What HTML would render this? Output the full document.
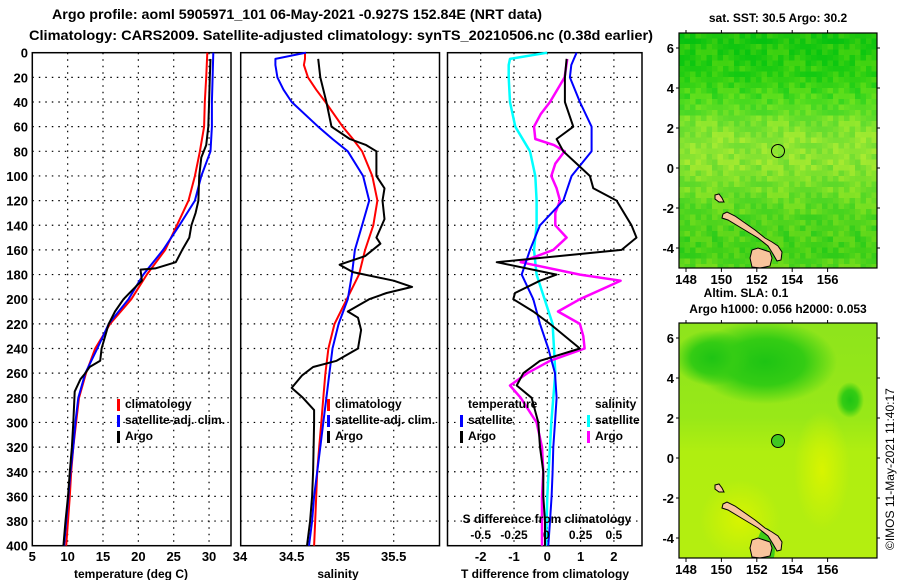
<!DOCTYPE html>
<html><head><meta charset="utf-8">
<style>
html,body{margin:0;padding:0;background:#fff;}
svg{display:block;font-family:"Liberation Sans",sans-serif;font-weight:bold;}
</style></head>
<body>
<svg id="c" width="900" height="580" xmlns="http://www.w3.org/2000/svg">
<defs>
<radialGradient id="g1" cx="0.5" cy="0.5" r="0.5"><stop offset="0" stop-color="#1ec414"/><stop offset="0.55" stop-color="#34cc14"/><stop offset="1" stop-color="#34cc14" stop-opacity="0"/></radialGradient>
<radialGradient id="g2" cx="0.5" cy="0.5" r="0.5"><stop offset="0" stop-color="#d8f400"/><stop offset="1" stop-color="#d8f400" stop-opacity="0"/></radialGradient>
<linearGradient id="lg2" x1="0" y1="0" x2="0" y2="1"><stop offset="0" stop-color="#8ee41c"/><stop offset="0.4" stop-color="#98e818"/><stop offset="0.55" stop-color="#b0ee10"/><stop offset="1" stop-color="#b4ee10"/></linearGradient>
<clipPath id="cm1"><rect x="679" y="33" width="198" height="235"/></clipPath>
<clipPath id="cm2"><rect x="679" y="323" width="198" height="235"/></clipPath>
</defs>
<text x="52" y="19" font-size="14" textLength="490" lengthAdjust="spacingAndGlyphs">Argo profile: aoml 5905971_101 06-May-2021 -0.927S 152.84E (NRT data)</text>
<text x="29" y="40" font-size="14" textLength="624" lengthAdjust="spacingAndGlyphs">Climatology: CARS2009. Satellite-adjusted climatology: synTS_20210506.nc (0.38d earlier)</text>
<g id="p1"></g>
<g id="p2"></g>
<g id="p3"></g>
<g id="m1"></g>
<g id="m2"></g>
<text transform="translate(894,550) rotate(-90)" font-size="12" font-weight="normal">©IMOS 11-May-2021 11:40:17</text>
</svg>
<script>
const depthsT = [0,20,40,60,80,100,120,140,160,180,200,220,240,260,280,300,320,340,360,380,400];
const tempClim = [29.75,29.6,29.4,29.3,28.7,28.0,27.1,25.45,23.8,21.2,19.0,16.0,13.9,12.6,11.6,11.2,10.8,10.5,10.3,10.05,9.8];
const tempSat = [30.6,30.5,30.4,30.4,30.2,28.9,28.0,25.8,23.5,20.7,18.6,15.8,14.2,12.5,11.5,11.1,10.8,10.4,10.1,9.8,9.5];
const depthsArgoT = [5,20,40,60,75,85,100,120,130,140,150,160,170,175,176,185,190,200,210,220,240,250,255,260,265,275,300,320,340,360,380,400];
const tempArgo = [30.2,30.1,30.0,29.9,29.6,28.9,28.6,28.5,28.1,27.5,27.2,26.2,25.3,22.4,20.3,20.5,19.6,17.9,16.7,15.8,14.8,14.6,13.1,12.5,11.8,11.0,10.8,10.6,10.3,10.05,9.7,9.4];
const depthsS = [0,5,10,20,30,40,60,70,80,100,120,140,160,180,200,220,240,260,280,300,320,340,360,380,400];
const salClim = [34.63,34.63,34.62,34.66,34.74,34.83,35.0,35.1,35.19,35.29,35.34,35.30,35.22,35.16,35.04,34.92,34.86,34.83,34.81,34.79,34.77,34.75,34.74,34.73,34.72];
const salSat = [34.64,34.34,34.34,34.36,34.42,34.5,34.76,34.9,35.05,35.2,35.26,35.19,35.12,35.09,35.05,34.96,34.9,34.87,34.84,34.81,34.78,34.75,34.72,34.70,34.67];
const depthsArgoS = [5,20,40,60,70,75,80,100,110,120,135,150,155,165,172,178,185,190,195,200,210,215,225,240,250,255,262,272,280,290,300,340,360,380,400];
const salArgo = [34.76,34.78,34.84,34.89,35.07,35.23,35.33,35.33,35.41,35.39,35.41,35.33,35.37,35.22,34.97,35.10,35.50,35.68,35.43,35.26,35.05,35.15,35.18,35.15,34.94,34.71,34.60,34.50,34.61,34.72,34.72,34.71,34.70,34.68,34.65];
const depthsD = [0,5,10,20,40,60,80,100,120,140,160,180,200,220,240,260,280,300,320,340,360,380,400];
const dSSat = [0.0,-0.28,-0.29,-0.29,-0.28,-0.24,-0.13,-0.09,-0.08,-0.08,-0.1,-0.08,-0.02,0.04,0.05,0.06,0.045,0.03,0.02,0.01,0.0,-0.005,-0.01];
const dTSat = [0.88,0.8,0.72,0.68,0.98,1.33,1.33,0.73,0.48,-0.22,-0.52,-0.77,-0.42,-0.22,0.03,0.23,0.28,0.23,0.18,0.16,0.13,0.08,0.03];
const depthsDSA = [5,20,40,50,60,70,75,80,90,100,110,120,130,140,150,160,170,180,185,190,200,210,220,230,240,250,260,270,280,300,320,340,360,380,400];
const dSArgo = [0.15,0.13,0.02,-0.05,-0.1,-0.09,0.05,0.13,0.06,0.03,0.07,0.095,0.06,0.06,0.145,0.045,-0.2,0.245,0.55,0.45,0.245,0.08,0.245,0.27,0.28,0.02,-0.15,-0.28,-0.2,-0.08,-0.04,-0.03,-0.04,-0.04,-0.04];
const depthsDTA = [5,20,40,60,70,80,90,100,110,120,140,150,160,170,180,185,195,200,210,220,240,250,260,270,280,300,320,340,360,380,400];
const dTArgo = [0.58,0.53,0.53,0.78,0.28,0.48,0.88,1.28,1.38,2.08,2.53,2.68,2.23,-1.52,0.28,-0.22,-0.97,-1.02,-0.42,0.08,0.98,-0.22,-0.72,-0.92,-0.47,-0.27,-0.22,-0.12,-0.12,-0.07,-0.07];
const depthTicks = [0,20,40,60,80,100,120,140,160,180,200,220,240,260,280,300,320,340,360,380,400];
const tTicks = [5,10,15,20,25,30,35];
const sTicks = [34,34.5,35,35.5];
const sTickLabels = ["34","34.5","35","35.5"];
const dTTicks = [-2,-1,0,1,2];
const dSTicks = [-0.5,-0.25,0,0.25,0.5];
const latTicks = [6,4,2,0,-2,-4];
const lonTicks = [148,150,152,154,156];

const NS="http://www.w3.org/2000/svg";
function mk(parent,tag,attrs){const e=document.createElementNS(NS,tag);for(const k in attrs)e.setAttribute(k,attrs[k]);parent.appendChild(e);return e;}
const Y0=52.7,Y1=545.7;
const yD=d=>Y0+(d/400)*(Y1-Y0);
const xT=t=>32.3+(t-5)*7.07;
const xS=s=>240.7+(s-34)*102;
const xDT=t=>547.3+t*33.3;
const xDS=s=>547.3+s*133.2;

function frame(g,x0,x1,name){
  for(const d of depthTicks){ if(d>0&&d<400){const l=mk(g,'line',{x1:x0,x2:x1,y1:yD(d),y2:yD(d),stroke:'#000','stroke-width':1.2,'stroke-dasharray':'1.5,5'});}}
  const r=mk(g,'rect',{x:x0,y:Y0,width:x1-x0,height:Y1-Y0,fill:'none',stroke:'#000','stroke-width':1.5});
  
}
function vgrid(g,xs,fx){for(const v of xs){const l=mk(g,'line',{x1:fx(v),x2:fx(v),y1:Y0,y2:Y1,stroke:'#000','stroke-width':1.2,'stroke-dasharray':'1.5,5'});}}
function line(g,ds,vs,fx,col,name,w){
  const p=ds.map((d,i)=>fx(vs[i]).toFixed(1)+','+yD(d).toFixed(1)).join(' ');
  const e=mk(g,'polyline',{points:p,fill:'none',stroke:col,'stroke-width':w||2,'stroke-linejoin':'round'});
  
}
function txt(g,x,y,s,size,anchor,name,col){const t=mk(g,'text',{x:x,y:y,'font-size':size,'text-anchor':anchor||'start',fill:col||'#000'});t.textContent=s;return t;}
function legBar(g,x,y,col){const r=mk(g,'rect',{x:x,y:y-10,width:3,height:12,fill:col});}

// Panel 1
const p1=document.getElementById('p1');
vgrid(p1,[10,15,20,25,30],xT);
frame(p1,32.3,231,'temperature-panel');
for(const d of depthTicks){txt(p1,28,yD(d)+5,String(d),13,'end','depth-tick-label');}
for(const t of tTicks){txt(p1,t===35?240:xT(t),561,String(t===35?34:t),13,'middle','temperature-tick-label');}
txt(p1,131,578,'temperature (deg C)',12,'middle','x-axis-title');
line(p1,depthsT,tempClim,xT,'#f00','climatology-temperature-line');
line(p1,depthsT,tempSat,xT,'#00f','satellite-temperature-line');
line(p1,depthsArgoT,tempArgo,xT,'#000','argo-temperature-line');
legBar(p1,117,409,'#f00');txt(p1,125,408,'climatology',12,'start','legend-climatology');
legBar(p1,117,425,'#00f');txt(p1,125,424,'satellite-adj. clim.',12,'start','legend-satellite');
legBar(p1,117,441,'#000');txt(p1,125,440,'Argo',12,'start','legend-argo');

// Panel 2
const p2=document.getElementById('p2');
vgrid(p2,[34.5,35,35.5],xS);
frame(p2,240.7,439.5,'salinity-panel');
for(let i=1;i<sTicks.length;i++){txt(p2,xS(sTicks[i]),561,sTickLabels[i],13,'middle','salinity-tick-label');}
txt(p2,338,578,'salinity',12,'middle','x-axis-title');
line(p2,depthsS,salClim,xS,'#f00','climatology-salinity-line');
line(p2,depthsS,salSat,xS,'#00f','satellite-salinity-line');
line(p2,depthsArgoS,salArgo,xS,'#000','argo-salinity-line');
legBar(p2,327,409,'#f00');txt(p2,335,408,'climatology',12,'start','legend-climatology');
legBar(p2,327,425,'#00f');txt(p2,335,424,'satellite-adj. clim.',12,'start','legend-satellite');
legBar(p2,327,441,'#000');txt(p2,335,440,'Argo',12,'start','legend-argo');

// Panel 3
const p3=document.getElementById('p3');
vgrid(p3,dTTicks,xDT);
frame(p3,447.5,642,'difference-panel');
for(const t of dTTicks){txt(p3,xDT(t),561,String(t),13,'middle','t-diff-tick-label');}
txt(p3,545,578,'T difference from climatology',12,'middle','x-axis-title');
line(p3,depthsD,dSSat,xDS,'#0ff','satellite-salinity-diff-line',2.5);
line(p3,depthsDSA,dSArgo,xDS,'#f0f','argo-salinity-diff-line',2.5);
line(p3,depthsD,dTSat,xDT,'#00f','satellite-temperature-diff-line');
line(p3,depthsDTA,dTArgo,xDT,'#000','argo-temperature-diff-line');
txt(p3,547,523,'S difference from climatology',12,'middle','s-diff-axis-title');
for(const s of dSTicks){txt(p3,xDS(s)-(s===0?1:0),539,String(s),12,'middle','s-diff-tick-label');}
txt(p3,468,408,'temperature',12,'start','legend-temperature-heading');
txt(p3,595,408,'salinity',12,'start','legend-salinity-heading');
legBar(p3,460,425,'#00f');txt(p3,468,424,'satellite',12,'start','legend-t-satellite');
legBar(p3,460,441,'#000');txt(p3,468,440,'Argo',12,'start','legend-t-argo');
legBar(p3,587,425,'#0ff');txt(p3,595,424,'satellite',12,'start','legend-s-satellite');
legBar(p3,587,441,'#f0f');txt(p3,595,440,'Argo',12,'start','legend-s-argo');

// Maps
const MX0=679,MX1=877,latTop=6.75,latBot=-5;
const lonX=l=>686+(l-148)*17.7;
function latY(lat,oy){return oy+(latTop-lat)/(latTop-latBot)*235;}
function land(g,oy){
  const dy=oy-33;
  const polys=[
   "723,214 727,212 735,216 745,223 755,230 765,238 772,242 778,246 782,252 781,260 777,261 773,254 768,246 758,238 748,232 738,226 728,220 722,218",
   "752,250 758,248 764,250 770,252 772,258 770,266 760,268 752,267 750,258",
   "715,195 719,194 722,198 724,202 719,202 715,199"];
  for(const p of polys){
    const pts=p.split(' ').map(s=>{const [a,b]=s.split(',');return a+','+(+b+dy);}).join(' ');
    const e=mk(g,'polygon',{points:pts,fill:'#f8c49c',stroke:'#000','stroke-width':1});
    
  }
}
function mapAxes(g,oy,name){
  const r=mk(g,'rect',{x:MX0,y:oy,width:MX1-MX0,height:235,fill:'none',stroke:'#000','stroke-width':1.2});
  
  for(const la of latTicks){const y=latY(la,oy);txt(g,674,y+5,String(la),13,'end','lat-tick-label');
    mk(g,'line',{x1:MX0,x2:MX0-3,y1:y,y2:y,stroke:'#000'});mk(g,'line',{x1:MX1,x2:MX1+3,y1:y,y2:y,stroke:'#000'});}
  for(const lo of lonTicks){const x=lonX(lo);txt(g,x,oy+251,String(lo),13,'middle','lon-tick-label');
    mk(g,'line',{x1:x,x2:x,y1:oy+235,y2:oy+239,stroke:'#000'});mk(g,'line',{x1:x,x2:x,y1:oy,y2:oy-3,stroke:'#000'});}
}
// top map texture (image background, not chart data)
const m1=document.getElementById('m1');
txt(m1,778,22,'sat. SST: 30.5 Argo: 30.2',12,'middle','sst-map-title');
const g1=mk(m1,'g',{'clip-path':'url(#cm1)'});

const rowCols=[[34,200,16],[40,205,16],[52,210,18],[80,220,30],[120,226,44],[145,230,50],[140,228,48],[120,224,40],[95,218,32],[80,212,28],[70,210,24],[100,215,30]];
const cs=5.5;
for(let j=0;j<43;j++){for(let i=0;i<37;i++){
  const f=j/43*(rowCols.length-1);const a=Math.floor(f),b=Math.min(a+1,rowCols.length-1),t=f-a;
  let c=rowCols[a].map((v,k)=>v+(rowCols[b][k]-v)*t);
  const h=((i*i*7+j*j*3+i*j*5+j*11)%13)/13-0.5;
  mk(g1,'rect',{x:MX0+i*cs,y:33+j*cs,width:cs+0.5,height:cs+0.5,fill:`rgb(${Math.round(c[0]+h*60)},${Math.round(c[1]+h*14)},${Math.round(c[2])})`});
}}
land(m1,33);
const c1=mk(m1,'circle',{cx:778,cy:151,r:6.5,fill:'none',stroke:'#000','stroke-width':1});

mapAxes(m1,33,'sst-map');
// bottom map
const m2=document.getElementById('m2');
txt(m2,746,297,'Altim. SLA: 0.1',12,'middle','sla-map-title');
txt(m2,778,313,'Argo h1000: 0.056 h2000: 0.053',12,'middle','sla-map-subtitle');
const g2=mk(m2,'g',{'clip-path':'url(#cm2)'});

mk(g2,'rect',{x:MX0,y:323,width:198,height:235,fill:'url(#lg2)'});
mk(g2,'ellipse',{cx:765,cy:362,rx:72,ry:42,fill:'url(#g1)'});
mk(g2,'ellipse',{cx:712,cy:358,rx:38,ry:28,fill:'url(#g1)'});
mk(g2,'ellipse',{cx:850,cy:400,rx:14,ry:18,fill:'url(#g1)'});
mk(g2,'ellipse',{cx:822,cy:470,rx:28,ry:60,fill:'url(#g2)'});
mk(g2,'ellipse',{cx:740,cy:520,rx:40,ry:40,fill:'url(#g2)'});
mk(g2,'ellipse',{cx:766,cy:548,rx:9,ry:20,fill:'#40cc18'});
land(m2,323);
const c2=mk(m2,'circle',{cx:778,cy:441,r:6.5,fill:'#40c820',stroke:'#000','stroke-width':1});

mapAxes(m2,323,'sla-map');
</script>
</body></html>
